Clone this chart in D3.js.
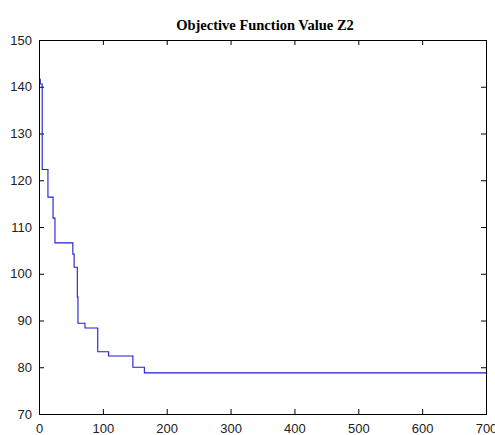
<!DOCTYPE html>
<html lang="en">
<head>
  <meta charset="UTF-8">
  <title>Objective Function Value Z2</title>
  <script src="https://d3js.org/d3.v7.min.js"></script>
</head>
<style>
  body { margin: 0; background: #fff; }
  .tick text { font-family: "Liberation Sans", Arial, sans-serif; font-size: 13px; fill: #222; }
  .frame { fill: none; stroke: #000; stroke-width: 1px; }
</style>
<body>
<svg id="chart" width="495" height="435"></svg>

<script>
  // iteration where the best value changed, and the value from there on
  const iterations = [1, 2, 5, 14, 22, 25, 53, 55, 60, 61, 72, 92, 109, 147, 165, 700];
  const values = [141.6, 140.6, 122.3, 116.4, 111.9, 106.6, 104.2, 101.4, 95.0, 89.4, 88.4, 83.3, 82.4, 80.0, 78.8, 78.8];
  const xTicks = [0, 100, 200, 300, 400, 500, 600, 700];
  const yTicks = [70, 80, 90, 100, 110, 120, 130, 140, 150];

  let plotLeft = 39, plotRight = 486, plotTop = 40, plotBottom = 414;
  let svg = d3.select("#chart");

  let x = d3.scaleLinear().domain([0, 700]).range([plotLeft, plotRight]);
  let y = d3.scaleLinear().domain([70, 150]).range([plotBottom, plotTop]);

  // Ticks point inward on all four sides, labels only bottom and left.
  svg.append("g").attr("transform", `translate(0,${plotBottom})`)
    .call(d3.axisBottom(x).tickValues(xTicks).tickSizeInner(-5).tickSizeOuter(0).tickPadding(10))
    .call(g => g.select(".domain").remove());
  svg.append("g").attr("transform", `translate(${plotLeft},0)`)
    .call(d3.axisLeft(y).tickValues(yTicks).tickSizeInner(-5).tickSizeOuter(0).tickPadding(7))
    .call(g => g.select(".domain").remove());
  svg.append("g").attr("transform", `translate(0,${plotTop})`)
    .call(d3.axisTop(x).tickValues(xTicks).tickSizeInner(-5).tickSizeOuter(0).tickFormat(""))
    .call(g => g.select(".domain").remove());
  svg.append("g").attr("transform", `translate(${plotRight},0)`)
    .call(d3.axisRight(y).tickValues(yTicks).tickSizeInner(-5).tickSizeOuter(0).tickFormat(""))
    .call(g => g.select(".domain").remove());
  svg.selectAll(".tick line").attr("stroke", "#000");

  svg.append("rect").attr("class", "frame")
    .attr("x", plotLeft + 0.5).attr("y", plotTop + 0.5)
    .attr("width", plotRight - plotLeft).attr("height", plotBottom - plotTop);

  let line = d3.line()
    .x((d, i) => x(iterations[i]))
    .y(d => y(d))
    .curve(d3.curveStepAfter);

  svg.append("path")
    .datum(values)
    .attr("fill", "none")
    .attr("stroke", "#1c1cd6")
    .attr("stroke-width", 1.1)
    .attr("d", line);

  svg.append("text")
    .attr("x", 265).attr("y", 30)
    .attr("text-anchor", "middle")
    .style("font-family", "'Liberation Serif', 'Times New Roman', serif")
    .style("font-weight", "bold")
    .style("font-size", "14.5px")
    .text("Objective Function Value Z2");
</script>
</body>
</html>
